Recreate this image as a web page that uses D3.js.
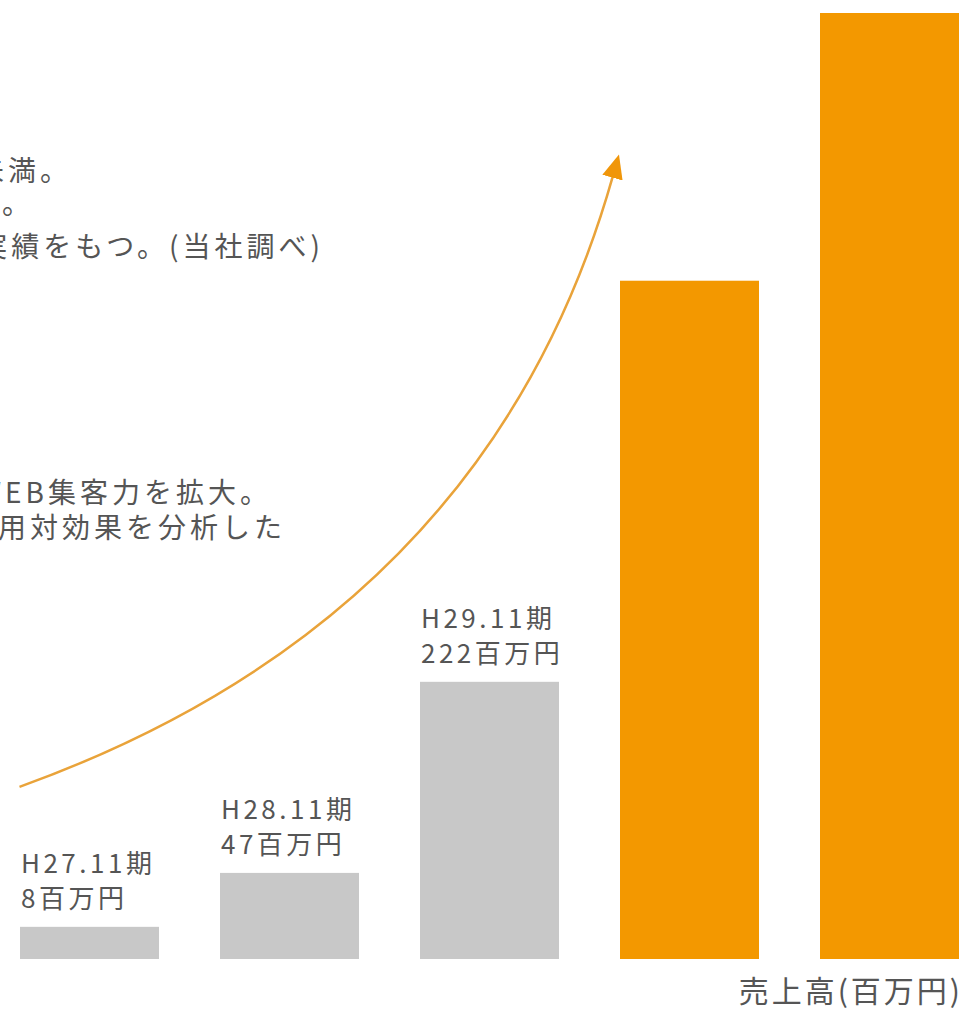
<!DOCTYPE html>
<html>
<head>
<meta charset="utf-8">
<script src="https://cdn.jsdelivr.net/npm/d3@7"></script>
<style>
body { margin: 0; background: #fff; }
text { font-family: "Noto Sans CJK JP", "Noto Sans", sans-serif; }
</style>
</head>
<body>
<div id="chart"></div>
<script>
// periods shown above the grey bars, the orange bars have no label
var periods = ['H27.11期', 'H28.11期', 'H29.11期', '', ''];
var salesLabels = ['8百万円', '47百万円', '222百万円', '', ''];
// bar heights (share of the full height, 0-100)
var barLevels = [3.4, 9.1, 29.3, 71.7, 100];
var barColors = ['#c8c8c8', '#c8c8c8', '#c8c8c8', '#f39800', '#f39800'];
// growth arrow: start, two control points, end (bar index, level)
var arrowPts = [[-0.35, 18.2], [1.2, 30], [2.2, 51.5], [2.6175, 82.8]];
// body copy, cut off by the left edge of the picture
var bodyLines = ['解約率は1%未満。', 'している。', '豊富な実績をもつ。(当社調べ)', '積極的なWEB集客力を拡大。', '広告の費用対効果を分析した'];
var bodyEnds = [68, 30, 320, 268, 282];
var bodyBase = [181, 214, 257, 503, 538];
var axisTitle = '売上高(百万円)';

var width = 972, height = 1009;
var svg = d3.select('#chart').append('svg')
    .attr('width', width)
    .attr('height', height);

var x = d3.scaleBand()
    .domain(d3.range(barLevels.length))
    .range([20, 959])
    .paddingInner(0.305)
    .paddingOuter(0);
var y = d3.scaleLinear().domain([0, 100]).range([959, 13]);
var xLin = d3.scaleLinear()
    .domain([0, barLevels.length - 1])
    .range([x(0) + x.bandwidth() / 2, x(barLevels.length - 1) + x.bandwidth() / 2]);

var bodyLs = 4;
svg.selectAll('text.body').data(bodyLines).enter().append('text')
    .attr('class', 'body')
    .attr('x', function (d, i) { return bodyEnds[i] + bodyLs; })
    .attr('y', function (d, i) { return bodyBase[i]; })
    .attr('text-anchor', 'end')
    .style('font-size', '28px')
    .style('letter-spacing', bodyLs + 'px')
    .style('fill', '#555555')
    .text(function (d) { return d; });

// bars
svg.selectAll('rect.bar').data(barLevels).enter().append('rect')
    .attr('class', 'bar')
    .attr('x', function (d, i) { return x(i); })
    .attr('y', function (d) { return y(d); })
    .attr('width', x.bandwidth())
    .attr('height', function (d) { return y(0) - y(d); })
    .style('fill', function (d, i) { return barColors[i]; });

// labels above grey bars
periods.forEach(function (p, i) {
    if (!p) return;
    var top = y(barLevels[i]);
    svg.append('text')
        .attr('x', x(i) + 1)
        .attr('y', top - 54)
        .style('font-size', '26px')
        .style('letter-spacing', '3.5px')
        .style('fill', '#555555')
        .text(p);
    svg.append('text')
        .attr('x', x(i) + 1)
        .attr('y', top - 19)
        .style('font-size', '26px')
        .style('letter-spacing', '3.5px')
        .style('fill', '#555555')
        .text(salesLabels[i]);
});

// arrow
var defs = svg.append('defs');
defs.append('marker')
    .attr('id', 'head')
    .attr('markerUnits', 'userSpaceOnUse')
    .attr('viewBox', '0 0 24 21')
    .attr('markerWidth', 24)
    .attr('markerHeight', 21)
    .attr('refX', 2)
    .attr('refY', 10.5)
    .attr('orient', 'auto')
    .append('path')
    .attr('d', 'M0,0 L24,10.5 L0,21 Z')
    .style('fill', '#f0960a');

var pts = arrowPts.map(function (p) { return [xLin(p[0]), y(p[1])]; });
var path = d3.path();
path.moveTo(pts[0][0], pts[0][1]);
path.bezierCurveTo(pts[1][0], pts[1][1], pts[2][0], pts[2][1], pts[3][0], pts[3][1]);
svg.append('path')
    .attr('d', path.toString())
    .style('fill', 'none')
    .style('stroke', '#e9a33a')
    .style('stroke-width', 2.5)
    .attr('marker-end', 'url(#head)');

// axis title
svg.append('text')
    .attr('x', 963)
    .attr('y', 1002)
    .attr('text-anchor', 'end')
    .style('font-size', '30px')
    .style('letter-spacing', '3px')
    .style('fill', '#555555')
    .text(axisTitle);
</script>
</body>
</html>
